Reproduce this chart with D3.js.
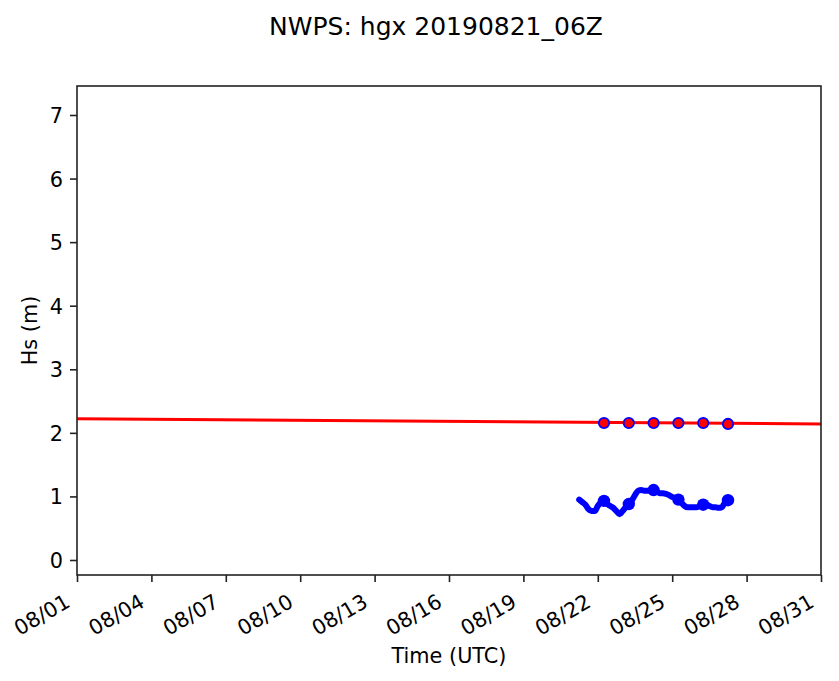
<!DOCTYPE html>
<html>
<head>
<meta charset="utf-8">
<script src="https://cdn.jsdelivr.net/npm/d3@7"></script>
<style>
  body { margin: 0; background: #fff; }
  svg { display: block; }
  text { font-family: "DejaVu Sans", sans-serif; fill: #000; }
</style>
</head>
<body>
<script>
// ---- data ----
const titleText = "NWPS: hgx 20190821_06Z";
const xLabel = "Time (UTC)";
const yLabel = "Hs (m)";
const xDomain = ["2019-08-01T00:00Z", "2019-08-31T00:00Z"];
const yDomain = [-0.236, 7.456];
const xTickDates = ["2019-08-01", "2019-08-04", "2019-08-07", "2019-08-10", "2019-08-13", "2019-08-16",
                    "2019-08-19", "2019-08-22", "2019-08-25", "2019-08-28", "2019-08-31"];
const yTicks = [0, 1, 2, 3, 4, 5, 6, 7];

// red trend line (end points)
const redLineTimes = ["2019-08-01T00:00Z", "2019-08-31T00:00Z"];
const redLineValues = [2.22, 2.14];

// red markers (daily 06Z)
const dotTimes = ["2019-08-22T06:00Z", "2019-08-23T06:00Z", "2019-08-24T06:00Z",
                  "2019-08-25T06:00Z", "2019-08-26T06:00Z", "2019-08-27T06:00Z"];
const redDotValues = [2.155, 2.155, 2.155, 2.155, 2.155, 2.14];

// blue model series, 3-hourly from 2019-08-21 06Z
const blueStart = "2019-08-21T06:00Z";
const blueValues = [0.95, 0.91, 0.87, 0.80, 0.77, 0.77, 0.85, 0.91,
                    0.93, 0.88, 0.85, 0.82, 0.77, 0.72, 0.77, 0.83,
                    0.88, 0.94, 1.02, 1.09, 1.10, 1.09, 1.09, 1.09,
                    1.10, 1.08, 1.05, 1.05, 1.04, 1.02, 0.99, 0.98,
                    0.95, 0.90, 0.85, 0.83, 0.83, 0.83, 0.83, 0.85,
                    0.87, 0.87, 0.85, 0.83, 0.83, 0.82, 0.83, 0.90,
                    0.94];
// big blue markers at daily 06Z
const blueDotValues = [0.93, 0.88, 1.10, 0.95, 0.87, 0.94];

// ---- layout ----
const W = 839, H = 681;
const m = { left: 77, right: 821, top: 86, bottom: 575 };

const svg = d3.select("body").append("svg").attr("width", W).attr("height", H);

const x = d3.scaleUtc().domain(xDomain.map(d => new Date(d))).range([m.left, m.right]);
const y = d3.scaleLinear().domain(yDomain).range([m.bottom, m.top]);

svg.append("clipPath").attr("id", "clip").append("rect")
  .attr("x", m.left).attr("y", m.top).attr("width", m.right - m.left).attr("height", m.bottom - m.top);

const plot = svg.append("g").attr("clip-path", "url(#clip)");

// red line
const redLine = redLineTimes.map((t, i) => ({ t: new Date(t), v: redLineValues[i] }));
plot.append("path").datum(redLine)
  .attr("d", d3.line().x(d => x(d.t)).y(d => y(d.v)))
  .attr("fill", "none").attr("stroke", "#ff0000").attr("stroke-width", 3);

// blue line
const t0 = new Date(blueStart).getTime();
const blue = blueValues.map((v, i) => ({ t: new Date(t0 + i * 3 * 3600e3), v }));
plot.append("path").datum(blue)
  .attr("d", d3.line().curve(d3.curveMonotoneX).x(d => x(d.t)).y(d => y(d.v)))
  .attr("fill", "none").attr("stroke", "#0000ff").attr("stroke-width", 6)
  .attr("stroke-linejoin", "round").attr("stroke-linecap", "round");

// big blue markers
plot.selectAll(".bdot").data(dotTimes.map((t, i) => ({ t: new Date(t), v: blueDotValues[i] })))
  .join("circle").attr("class", "bdot")
  .attr("cx", d => x(d.t)).attr("cy", d => y(d.v)).attr("r", 6.2)
  .attr("fill", "#0000ff");

// red markers with blue edge
plot.selectAll(".rdot").data(dotTimes.map((t, i) => ({ t: new Date(t), v: redDotValues[i] })))
  .join("circle").attr("class", "rdot")
  .attr("cx", d => x(d.t)).attr("cy", d => y(d.v)).attr("r", 5.2)
  .attr("fill", "#ff0000").attr("stroke", "#0000ff").attr("stroke-width", 1.8);

// axes
const tickColor = "#222";
const xAxis = svg.append("g").attr("transform", `translate(0,${m.bottom})`)
  .call(d3.axisBottom(x).tickValues(xTickDates.map(d => new Date(d + "T00:00Z")))
    .tickFormat(d3.utcFormat("%m/%d")).tickSizeOuter(0).tickSize(7).tickPadding(0));
xAxis.select(".domain").remove();
xAxis.selectAll(".tick line").attr("stroke", tickColor).attr("stroke-width", 1.6);
xAxis.selectAll(".tick text")
  .attr("font-size", 20.8).attr("text-anchor", "end")
  .attr("y", 0).attr("dy", 0)
  .attr("transform", "translate(-6,31) rotate(-30)");

const yAxis = svg.append("g").attr("transform", `translate(${m.left},0)`)
  .call(d3.axisLeft(y).tickValues(yTicks).tickFormat(d3.format("d")).tickSizeOuter(0).tickSize(7).tickPadding(7));
yAxis.select(".domain").remove();
yAxis.selectAll(".tick line").attr("stroke", tickColor).attr("stroke-width", 1.6);
yAxis.selectAll(".tick text").attr("font-size", 20.8).attr("dy", "0.36em");

// frame
svg.append("rect").attr("x", m.left).attr("y", m.top)
  .attr("width", m.right - m.left).attr("height", m.bottom - m.top)
  .attr("fill", "none").attr("stroke", tickColor).attr("stroke-width", 1.6);

// labels
svg.append("text").attr("x", 436).attr("y", 35).attr("text-anchor", "middle")
  .attr("font-size", 25).text(titleText);
svg.append("text").attr("x", (m.left + m.right) / 2).attr("y", 663).attr("text-anchor", "middle")
  .attr("font-size", 20.8).text(xLabel);
svg.append("text").attr("transform", `translate(37,${(m.top + m.bottom) / 2}) rotate(-90)`)
  .attr("text-anchor", "middle").attr("font-size", 20.8).text(yLabel);
</script>
</body>
</html>
